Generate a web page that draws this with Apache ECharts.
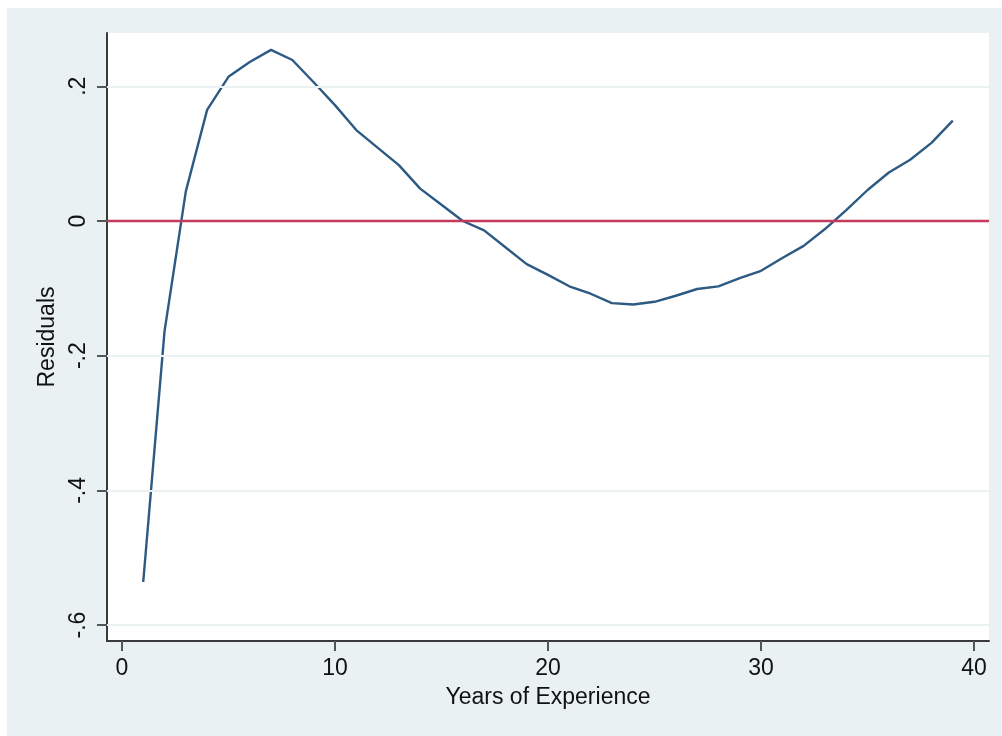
<!DOCTYPE html>
<html>
<head>
<meta charset="utf-8">
<script src="https://cdn.jsdelivr.net/npm/echarts@6/dist/echarts.min.js"></script>
<style>
  html, body { margin: 0; padding: 0; background: #fff; }
  #bg { position: absolute; left: 7px; top: 8px; width: 995px; height: 728px; background: #e9f1f3; }
  #main { position: absolute; left: 0; top: 0; width: 1002px; height: 736px; }
</style>
</head>
<body>
<div id="bg"></div>
<div id="main"></div>
<script>
// years of experience and the residual at each one
const years = [1, 2, 3, 4, 5, 6, 7, 8, 9, 10, 11, 12, 13, 14, 15, 16, 17, 18, 19, 20,
  21, 22, 23, 24, 25, 26, 27, 28, 29, 30, 31, 32, 33, 34, 35, 36, 37, 38, 39]
const residuals = [-0.536, -0.164, 0.044, 0.165, 0.214, 0.236, 0.254, 0.239, 0.206, 0.172,
  0.135, 0.109, 0.083, 0.048, 0.024, 0.000, -0.014, -0.039, -0.064, -0.080,
  -0.097, -0.108, -0.122, -0.124, -0.120, -0.111, -0.101, -0.097, -0.085, -0.074,
  -0.055, -0.037, -0.012, 0.016, 0.046, 0.072, 0.091, 0.116, 0.149]

// tick marks and their labels
const xTicks = [0, 10, 20, 30, 40]
const xTickLabels = ['0', '10', '20', '30', '40']
const yTicks = [-0.6, -0.4, -0.2, 0, 0.2]
const yTickLabels = ['-.6', '-.4', '-.2', '0', '.2']

const font = '"Liberation Sans", Arial, Helvetica, sans-serif'

const chart = echarts.init(document.getElementById('main'))

const option = {
  backgroundColor: 'transparent',
  animation: false,
  grid: {
    left: 107,
    right: 13,
    top: 33,
    bottom: 95,
    show: true,
    backgroundColor: '#fff',
    borderWidth: 0
  },
  xAxis: {
    type: 'value',
    min: -0.7,
    max: 40.7,
    name: 'Years of Experience',
    nameLocation: 'middle',
    nameGap: 45,
    nameTextStyle: { color: '#111', fontSize: 23, fontFamily: font },
    axisLine: { show: true, onZero: false, lineStyle: { color: '#3a3a3a', width: 2 } },
    axisTick: {
      show: true,
      customValues: xTicks,
      length: 10,
      lineStyle: { color: '#555', width: 2 }
    },
    axisLabel: {
      customValues: xTicks,
      margin: 16,
      color: '#111',
      fontSize: 23,
      fontFamily: font,
      formatter: (v) => xTickLabels[xTicks.indexOf(v)] ?? ''
    },
    splitLine: { show: false }
  },
  yAxis: {
    type: 'value',
    min: -0.6236,
    max: 0.2791,
    name: 'Residuals',
    nameLocation: 'middle',
    nameGap: 46,
    nameRotate: 90,
    nameTextStyle: { color: '#111', fontSize: 23, fontFamily: font },
    axisLine: { show: true, onZero: false, lineStyle: { color: '#3a3a3a', width: 2 } },
    axisTick: {
      show: true,
      customValues: yTicks,
      length: 10,
      lineStyle: { color: '#555', width: 2 }
    },
    axisLabel: {
      customValues: yTicks,
      rotate: 90,
      margin: 17,
      color: '#111',
      fontSize: 23,
      fontFamily: font,
      formatter: (v) => {
        const i = yTicks.findIndex(t => Math.abs(t - v) < 1e-9)
        return i >= 0 ? yTickLabels[i] : ''
      }
    },
    splitLine: { show: false }
  },
  series: [
    {
      name: 'Residuals',
      type: 'line',
      data: years.map((y, i) => [y, residuals[i]]),
      showSymbol: false,
      lineStyle: { color: '#2d5a82', width: 2.4 },
      z: 3,
      markLine: {
        silent: true,
        symbol: 'none',
        label: { show: false },
        lineStyle: { color: '#eaf1f2', width: 2, type: 'solid' },
        data: yTicks.filter(t => t !== 0).map(t => ({ yAxis: t }))
      }
    },
    {
      name: 'zero',
      type: 'line',
      data: [],
      z: 2,
      markLine: {
        silent: true,
        symbol: 'none',
        label: { show: false },
        lineStyle: { color: '#c43a5c', width: 2.4, type: 'solid' },
        data: [{ yAxis: 0 }]
      }
    }
  ]
}

chart.setOption(option)
</script>
</body>
</html>
